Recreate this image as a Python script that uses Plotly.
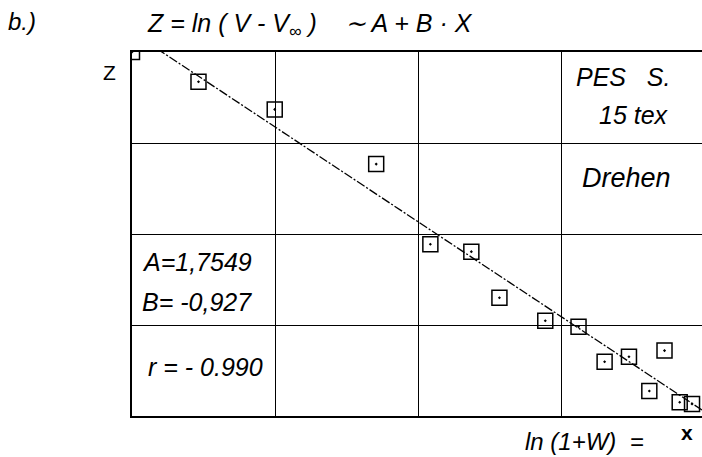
import plotly.graph_objects as go

# Regression parameters of Z = A + B*X
A = 1.7549
B = -0.927
r = -0.990

# Measured points: X = ln(1+W), Z = ln(V - V_inf)
x_vals = [0.000, 0.232, 0.498, 0.852, 1.041, 1.184, 1.282, 1.442, 1.558,
          1.649, 1.734, 1.858, 1.805, 1.911, 1.954]
z_vals = [1.658, 1.513, 1.378, 1.111, 0.720, 0.684, 0.459, 0.347, 0.318,
          0.147, 0.171, 0.201, 0.004, -0.051, -0.059]

# Axis ranges and grid positions
x_range = [0.0, 1.9888]
z_range = [-0.118, 1.658]
x_grid = [0.5, 1.0, 1.5]
z_grid = [0.326, 0.770, 1.214]

W, H = 702, 457
ML, MT, MB, MR = 132, 52, 41, 0
PW, PH = W - ML - MR, H - MT - MB

def px(x):
    return (x - ML) / PW

def py(y):
    return (H - MB - y) / PH

fig = go.Figure()

# fitted straight line
fit_x = [x_range[0], x_range[1]]
fit_z = [A + B * v for v in fit_x]
fig.add_trace(go.Scatter(
    x=fit_x, y=fit_z, mode="lines",
    line=dict(color="black", width=1.3, dash="9px,2px,2px,2px"),
    hoverinfo="skip", showlegend=False,
))

# measurement points
fig.add_trace(go.Scatter(
    x=x_vals, y=z_vals, mode="markers",
    marker=dict(symbol="square-open-dot", size=15, color="black",
                line=dict(color="black", width=1.5)),
    cliponaxis=True, showlegend=False,
))

FONT = "Liberation Sans"
ann = []

def txt(s, x, y, size=25, anchor="left", italic=True):
    ann.append(dict(
        text=f"<i>{s}</i>" if italic else s,
        x=px(x), y=py(y), xref="paper", yref="paper",
        xanchor=anchor, yanchor="middle", showarrow=False,
        font=dict(family=FONT, size=size, color="black"),
    ))

txt("b.)", 6, 21, size=24)
txt("Z = ln ( V - V<sub>∞</sub> )    ∼ A + B · X", 145, 25, size=25)
txt("Z", 109, 72, size=21, anchor="center", italic=False)
txt("PES   S.", 623, 77, anchor="center")
txt("15 tex", 634, 115, anchor="center")
txt("Drehen", 626, 178, size=27, anchor="center")
txt("A=1,7549", 140, 262)
txt("B= -0,927", 140, 302)
txt("r = - 0.990", 146, 367)
txt("ln (1+W)  =", 523, 441, size=24)
ann.append(dict(
    text="<b>x</b>", x=px(687), y=py(432), xref="paper", yref="paper",
    xanchor="center", yanchor="middle", showarrow=False,
    font=dict(family=FONT, size=21, color="black"),
))

fig.update_layout(
    width=W, height=H,
    margin=dict(l=ML, r=MR, t=MT, b=MB, pad=0),
    paper_bgcolor="white", plot_bgcolor="white",
    annotations=ann,
    xaxis=dict(range=x_range, tickvals=x_grid, showticklabels=False,
               ticks="", showgrid=True, gridcolor="black", gridwidth=1.3,
               zeroline=False, showline=True, linecolor="black",
               linewidth=1.5, mirror=True, fixedrange=True),
    yaxis=dict(range=z_range, tickvals=z_grid, showticklabels=False,
               ticks="", showgrid=True, gridcolor="black", gridwidth=1.3,
               zeroline=False, showline=True, linecolor="black",
               linewidth=1.5, mirror=False, fixedrange=True),
)

fig.write_html("out.html")
